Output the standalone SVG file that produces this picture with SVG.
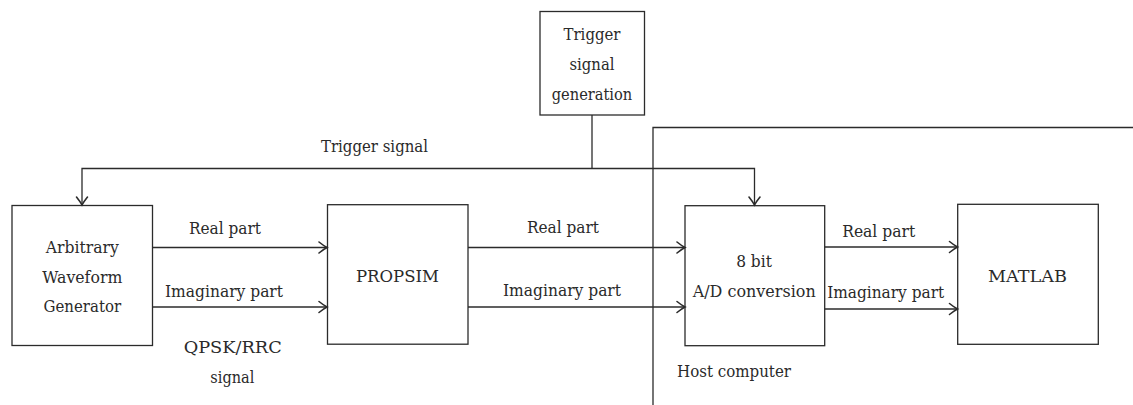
<svg xmlns="http://www.w3.org/2000/svg" width="1133" height="405" viewBox="0 0 1133 405">
  <style>
    .box { fill: #ffffff; stroke: #2b2b2b; stroke-width: 1.3; }
    .wire { fill: none; stroke: #2b2b2b; stroke-width: 1.3; }
    .lbl { font-size: 16px; fill: #2a2a2a; text-anchor: middle; }
    .lbl-l { font-size: 16px; fill: #2a2a2a; }
  </style>
  <defs>
    <marker id="tip" markerUnits="userSpaceOnUse" markerWidth="14" markerHeight="14" viewBox="-10 -7 12 14" refX="0" refY="0" orient="auto">
      <path d="M -8 -5.5 Q -3 -1.5 0 0 Q -3 1.5 -8 5.5" fill="none" stroke="#2b2b2b" stroke-width="1.6" stroke-linecap="round"/>
    </marker>
  </defs>
  <rect width="1133" height="405" fill="#ffffff"/>

  <g font-family="'DejaVu Serif', serif">
  <!-- host computer boundary -->
  <g id="host-computer">
    <path class="wire" d="M 653 405 V 127.5 H 1133"/>
    <text class="lbl-l" x="677" y="376.7" textLength="114" lengthAdjust="spacingAndGlyphs">Host computer</text>
  </g>

  <g id="trigger-gen">
    <rect class="box" x="540" y="11.5" width="104.5" height="103.5"/>
    <text class="lbl" x="592" y="40" textLength="57" lengthAdjust="spacingAndGlyphs">Trigger</text>
    <text class="lbl" x="592" y="70" textLength="45" lengthAdjust="spacingAndGlyphs">signal</text>
    <text class="lbl" x="592" y="100" textLength="80.5" lengthAdjust="spacingAndGlyphs">generation</text>
  </g>

  <g id="awg">
    <rect class="box" x="12" y="205.5" width="140.5" height="140"/>
    <text class="lbl" x="82.3" y="253.3" textLength="73" lengthAdjust="spacingAndGlyphs">Arbitrary</text>
    <text class="lbl" x="82.3" y="282.7" textLength="80" lengthAdjust="spacingAndGlyphs">Waveform</text>
    <text class="lbl" x="82.3" y="312.3" textLength="77.5" lengthAdjust="spacingAndGlyphs">Generator</text>
  </g>

  <g id="propsim">
    <rect class="box" x="327.5" y="204.7" width="140.5" height="139.5"/>
    <text class="lbl" x="397.5" y="281.7" textLength="83" lengthAdjust="spacingAndGlyphs">PROPSIM</text>
  </g>

  <g id="adc">
    <rect class="box" x="685" y="205.7" width="139.7" height="140"/>
    <text class="lbl" x="754" y="267.3" textLength="35.7" lengthAdjust="spacingAndGlyphs">8 bit</text>
    <text class="lbl" x="754.2" y="297.3" textLength="123" lengthAdjust="spacingAndGlyphs">A/D conversion</text>
  </g>

  <g id="matlab">
    <rect class="box" x="957.7" y="204.3" width="140.6" height="140"/>
    <text class="lbl" x="1027.5" y="281.7" textLength="79" lengthAdjust="spacingAndGlyphs">MATLAB</text>
  </g>

  <g id="connectors">
    <!-- trigger distribution -->
    <path class="wire" d="M 592 115 V 168.5"/>
    <path class="wire" d="M 592 168.5 H 82 V 205" marker-end="url(#tip)"/>
    <path class="wire" d="M 592 168.5 H 754.5 V 205" marker-end="url(#tip)"/>
    <text class="lbl-l" x="321" y="151.7" textLength="107" lengthAdjust="spacingAndGlyphs">Trigger signal</text>

    <!-- AWG to PROPSIM -->
    <path class="wire" d="M 152.5 247.5 H 327" marker-end="url(#tip)"/>
    <path class="wire" d="M 152.5 307 H 327" marker-end="url(#tip)"/>
    <text class="lbl" x="225" y="234.3" textLength="72" lengthAdjust="spacingAndGlyphs">Real part</text>
    <text class="lbl" x="224" y="296.7" textLength="118" lengthAdjust="spacingAndGlyphs">Imaginary part</text>
    <text class="lbl" x="232.7" y="353.3" textLength="98" lengthAdjust="spacingAndGlyphs">QPSK/RRC</text>
    <text class="lbl" x="232.3" y="383.3" textLength="44" lengthAdjust="spacingAndGlyphs">signal</text>

    <!-- PROPSIM to A/D -->
    <path class="wire" d="M 468 247.5 H 685" marker-end="url(#tip)"/>
    <path class="wire" d="M 468 307 H 685" marker-end="url(#tip)"/>
    <text class="lbl" x="563" y="233.3" textLength="72" lengthAdjust="spacingAndGlyphs">Real part</text>
    <text class="lbl" x="562" y="295.7" textLength="118" lengthAdjust="spacingAndGlyphs">Imaginary part</text>

    <!-- A/D to MATLAB -->
    <path class="wire" d="M 824.7 247 H 957.5" marker-end="url(#tip)"/>
    <path class="wire" d="M 824.7 309 H 957.5" marker-end="url(#tip)"/>
    <text class="lbl" x="878.7" y="236.7" textLength="73" lengthAdjust="spacingAndGlyphs">Real part</text>
    <text class="lbl" x="885.7" y="297.7" textLength="117" lengthAdjust="spacingAndGlyphs">Imaginary part</text>
  </g>
  </g>
</svg>
